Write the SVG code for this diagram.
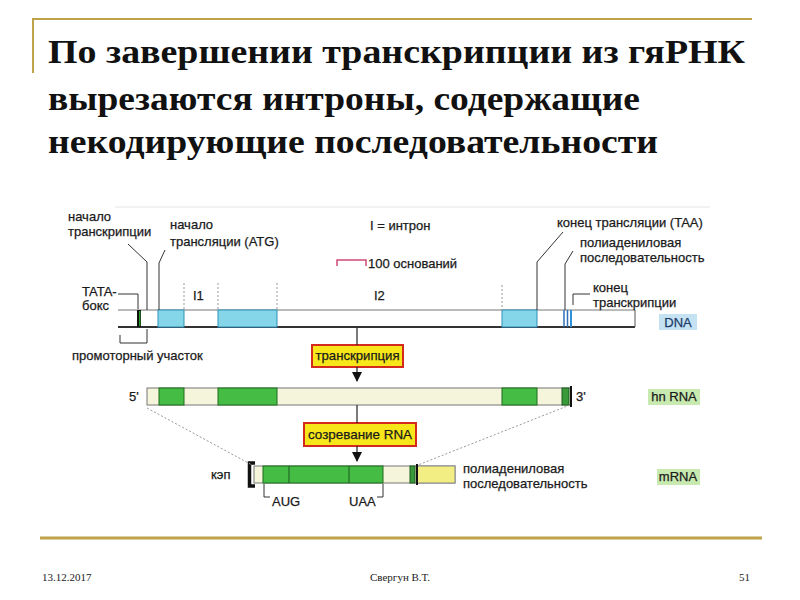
<svg xmlns="http://www.w3.org/2000/svg" width="800" height="600" viewBox="0 0 800 600">
<style>
.title{font-family:"Liberation Serif","DejaVu Serif",serif;font-weight:bold;font-size:33px;fill:#111}
.foot{font-family:"Liberation Serif",serif;font-size:11px;fill:#222}
.lbl{font-family:"Liberation Sans","DejaVu Sans",sans-serif;font-size:13px;fill:#1a1a1a;stroke:#1a1a1a;stroke-width:0.25}
.gold{stroke:#bfa24a;fill:none}
.ln{stroke:#333;stroke-width:1;fill:none}
.dot{stroke:#999;stroke-width:1;stroke-dasharray:2,2;fill:none}
.cy{fill:#86d6ea;stroke:#2f8fb8;stroke-width:1}
.gr{fill:#45bd45;stroke:#1d6a1d;stroke-width:1}
.cream{fill:#f5f5dc;stroke:#777;stroke-width:1}
.box{fill:#f6e61a;stroke:#d42a1e;stroke-width:2}
</style>
<defs>
<marker id="ah" viewBox="0 0 10 10" refX="9" refY="5" markerWidth="10" markerHeight="10" markerUnits="userSpaceOnUse" orient="auto"><path d="M0,0 L10,5 L0,10 z" fill="#111"/></marker>
</defs>
<rect width="800" height="600" fill="#fff"/>
<g id="frame">
<line class="gold" x1="33" y1="19" x2="752" y2="19" stroke-width="2"/>
<line class="gold" x1="33" y1="18" x2="33" y2="73" stroke-width="2"/>
<line class="gold" x1="40" y1="538" x2="762" y2="538" stroke-width="3"/>
</g>
<g id="title">
<text class="title" x="48" y="63" textLength="697" lengthAdjust="spacingAndGlyphs">По завершении транскрипции из гяРНК</text>
<text class="title" x="48" y="110" textLength="592" lengthAdjust="spacingAndGlyphs">вырезаются интроны, содержащие</text>
<text class="title" x="48" y="153" textLength="610" lengthAdjust="spacingAndGlyphs">некодирующие последовательности</text>
</g>
<g id="footer">
<text class="foot" x="42" y="581">13.12.2017</text>
<text class="foot" x="400" y="581" text-anchor="middle">Свергун В.Т.</text>
<text class="foot" x="750" y="581" text-anchor="end">51</text>
</g>
<line x1="115" y1="207" x2="710" y2="207" stroke="#e4e4e4" stroke-width="1"/>
<g id="legend">
<text class="lbl" x="370" y="230">I = интрон</text>
<path d="M337,266 V260 H366 V266" stroke="#d04a7a" stroke-width="1.5" fill="none"/>
<text class="lbl" x="368" y="268">100 оснований</text>
<text class="lbl" x="193" y="300">I1</text>
<text class="lbl" x="374" y="300">I2</text>
</g>
<g id="dna">
<line x1="118" y1="310" x2="635" y2="310" stroke="#777" stroke-width="1"/>
<line x1="118" y1="327" x2="635" y2="327" stroke="#333" stroke-width="1.8"/>
<line x1="635" y1="310" x2="635" y2="327" stroke="#555" stroke-width="1"/>
<rect x="137" y="310" width="4" height="17" fill="#111"/>
<rect x="139" y="311" width="1.5" height="15" fill="#2a9a2a"/>
<rect class="cy" x="158" y="310" width="26" height="17"/>
<rect class="cy" x="218" y="310" width="59" height="17"/>
<rect class="cy" x="502" y="310" width="35" height="17"/>
<line x1="564" y1="310" x2="564" y2="327" stroke="#2f6fb8" stroke-width="1.5"/>
<line x1="567.5" y1="310" x2="567.5" y2="327" stroke="#2f6fb8" stroke-width="1.5"/>
<line x1="571" y1="310" x2="571" y2="327" stroke="#2f8fd8" stroke-width="2"/>
<rect x="659" y="314" width="38" height="16" fill="#c4e2f2"/>
<text class="lbl" x="678" y="327" text-anchor="middle" style="fill:#1a3a6a;stroke:#1a3a6a">DNA</text>
</g>
<g id="dna-labels">
<text class="lbl" x="68" y="221">начало</text>
<text class="lbl" x="68" y="236">транскрипции</text>
<text class="lbl" x="170" y="229">начало</text>
<text class="lbl" x="170" y="246">трансляции (ATG)</text>
<text class="lbl" x="82" y="296">TATA-</text>
<text class="lbl" x="82" y="310">бокс</text>
<text class="lbl" x="72" y="360">промоторный участок</text>
<text class="lbl" x="557" y="227">конец трансляции (TAA)</text>
<text class="lbl" x="580" y="247">полиадениловая</text>
<text class="lbl" x="580" y="262">последовательность</text>
<text class="lbl" x="593" y="292">конец</text>
<text class="lbl" x="593" y="307">транскрипции</text>
</g>
<g id="hnrna">
<rect class="cream" x="147" y="388" width="424" height="17"/>
<rect class="gr" x="159" y="388" width="25" height="17"/>
<rect class="gr" x="218" y="388" width="59" height="17"/>
<rect class="gr" x="502" y="388" width="35" height="17"/>
<rect x="562" y="388" width="7" height="17" fill="#3a9a3a" stroke="#1d5a1d" stroke-width="1"/>
<line x1="571" y1="386" x2="571" y2="407" stroke="#111" stroke-width="2"/>
<text class="lbl" x="129" y="401">5'</text>
<text class="lbl" x="576" y="401">3'</text>
<rect x="648" y="389" width="52" height="16" fill="#c8eab0"/>
<text class="lbl" x="674" y="401" text-anchor="middle">hn RNA</text>
</g>
<g id="mrna">
<rect class="cream" x="254" y="466" width="201" height="17"/>
<rect class="gr" x="263" y="466" width="120" height="17"/>
<line x1="289" y1="466" x2="289" y2="483" stroke="#1d5a1d"/>
<line x1="349" y1="466" x2="349" y2="483" stroke="#1d5a1d"/>
<rect x="410" y="466" width="5" height="17" fill="#3a9a3a" stroke="#1d5a1d" stroke-width="1"/>
<rect x="417" y="466" width="38" height="17" fill="#f2ee84" stroke="#888" stroke-width="1"/>
<line x1="417" y1="464" x2="417" y2="485" stroke="#111" stroke-width="2"/>
<path d="M255,463 H249.5 V486 H255" stroke="#111" stroke-width="3.5" fill="none"/>
<text class="lbl" x="211" y="479">кэп</text>
<path d="M264,484 V497 H270" class="ln"/>
<path d="M383,484 V497 H377" class="ln"/>
<text class="lbl" x="272" y="506">AUG</text>
<text class="lbl" x="349" y="506">UAA</text>
<text class="lbl" x="463" y="473">полиадениловая</text>
<text class="lbl" x="463" y="488">последовательность</text>
<rect x="657" y="469" width="43" height="16" fill="#c8eab0"/>
<text class="lbl" x="678" y="481" text-anchor="middle">mRNA</text>
</g>
<g id="step-transcription">
<rect class="box" x="312" y="345" width="91" height="22"/>
<text class="lbl" x="357.5" y="360" text-anchor="middle" textLength="84" lengthAdjust="spacingAndGlyphs">транскрипция</text>
</g>
<g id="step-maturation">
<rect class="box" x="304" y="423" width="112" height="23"/>
<text class="lbl" x="360" y="439" text-anchor="middle" textLength="104" lengthAdjust="spacingAndGlyphs">созревание RNA</text>
</g>
<g id="connectors">
<path class="ln" d="M128,244 L147,262 V310"/>
<path class="ln" d="M165,250 L159,263 V310"/>
<path class="ln" d="M118,294 H138 V309"/>
<path class="ln" d="M120,335 V343 H147 V329"/>
<path class="ln" d="M563,232 L537,262 V310"/>
<path class="ln" d="M573,251 L565,264 V310"/>
<path class="ln" d="M590,294 H573 V305"/>
<line class="dot" x1="184" y1="283" x2="184" y2="310"/>
<line class="dot" x1="218" y1="283" x2="218" y2="310"/>
<line class="dot" x1="277" y1="283" x2="277" y2="310"/>
<line class="dot" x1="502" y1="285" x2="502" y2="310"/>
<line x1="357" y1="328" x2="357" y2="345" stroke="#222" stroke-width="1.2"/>
<line x1="357" y1="367" x2="357" y2="381" stroke="#222" stroke-width="1.2" marker-end="url(#ah)"/>
<line x1="357" y1="405" x2="357" y2="423" stroke="#222" stroke-width="1.2"/>
<line x1="357" y1="446" x2="357" y2="461" stroke="#222" stroke-width="1.2" marker-end="url(#ah)"/>
<line class="dot" x1="147" y1="408" x2="252" y2="465"/>
<line class="dot" x1="570" y1="405" x2="418" y2="465"/>
</g>
</svg>
